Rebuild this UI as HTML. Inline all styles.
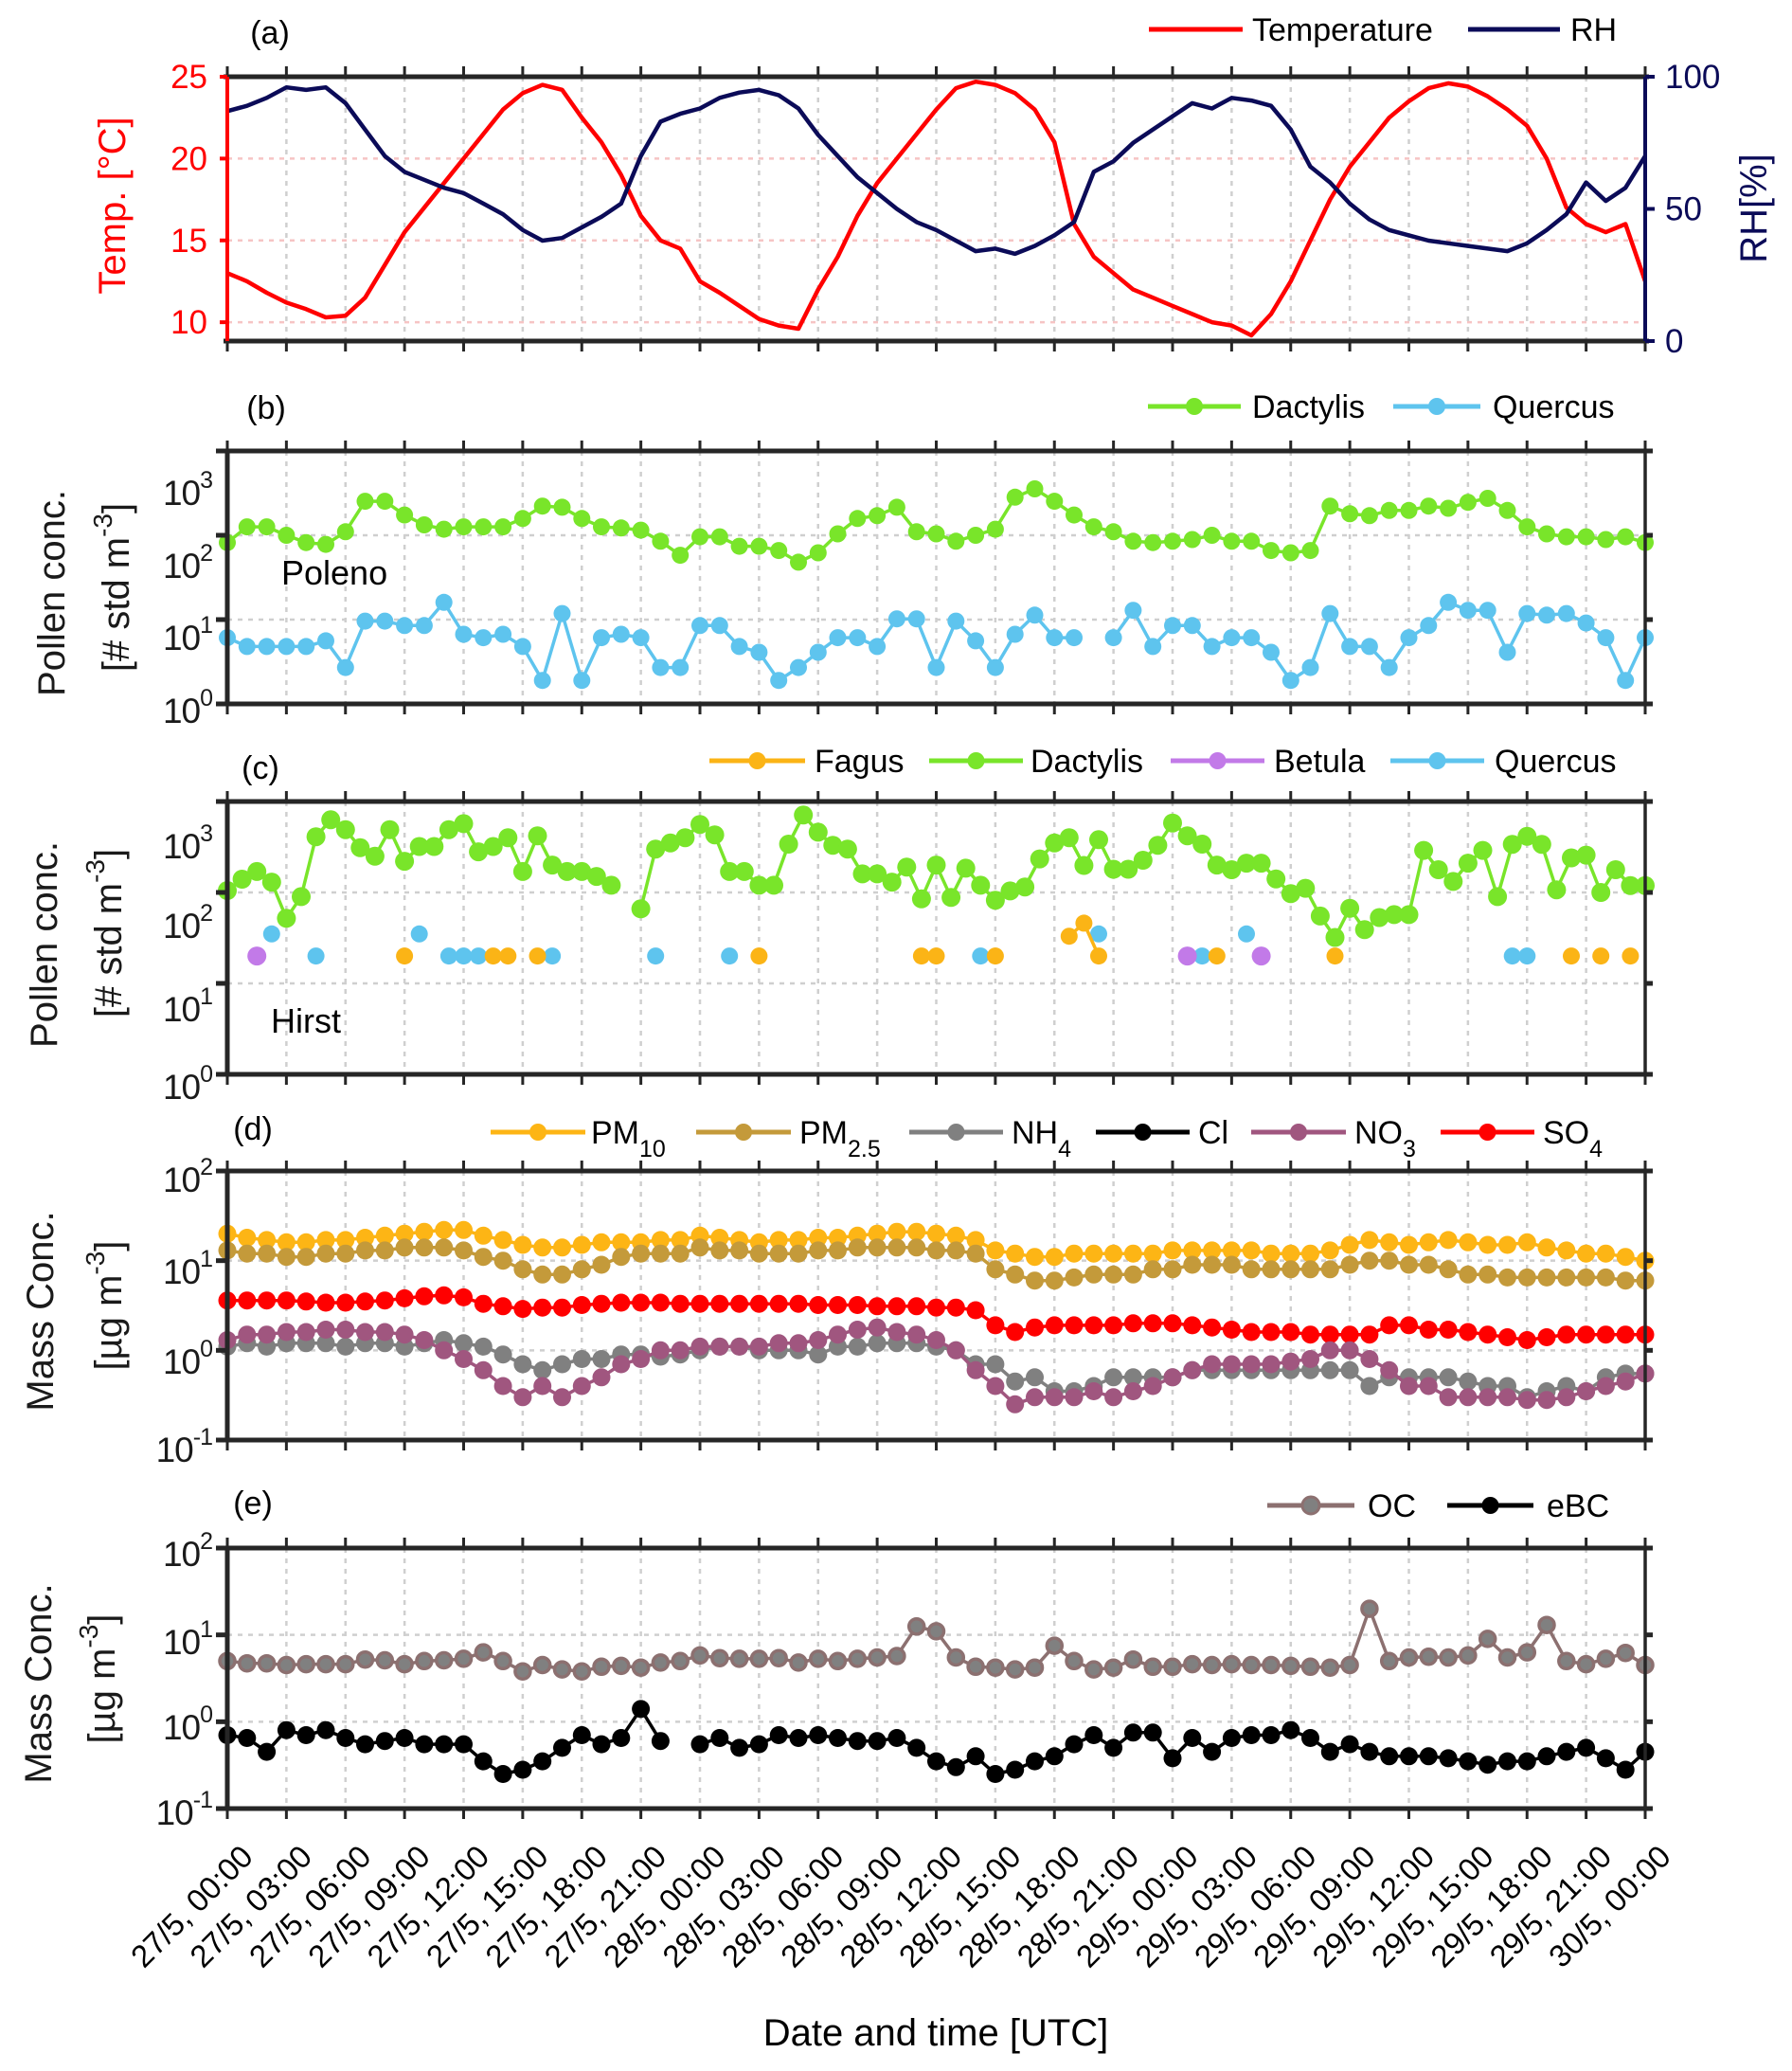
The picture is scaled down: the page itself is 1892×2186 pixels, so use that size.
<!DOCTYPE html>
<html><head><meta charset="utf-8">
<style>
html,body{margin:0;padding:0;background:#fff;}
svg{display:block;font-family:"Liberation Sans",Arial,sans-serif;}
</style></head>
<body>
<svg id="fig" xmlns="http://www.w3.org/2000/svg" width="1892" height="2186" viewBox="0 0 1892 2186"></svg>
<script>
// ---------- DATA ----------
const tickLabels = ["27/5, 00:00","27/5, 03:00","27/5, 06:00","27/5, 09:00","27/5, 12:00","27/5, 15:00","27/5, 18:00","27/5, 21:00","28/5, 00:00","28/5, 03:00","28/5, 06:00","28/5, 09:00","28/5, 12:00","28/5, 15:00","28/5, 18:00","28/5, 21:00","29/5, 00:00","29/5, 03:00","29/5, 06:00","29/5, 09:00","29/5, 12:00","29/5, 15:00","29/5, 18:00","29/5, 21:00","30/5, 00:00"];
const tempC = [13,12.5,11.8,11.2,10.8,10.3,10.4,11.5,13.5,15.5,17,18.5,20,21.5,23,24,24.5,24.2,22.5,21,19,16.5,15,14.5,12.5,11.8,11,10.2,9.8,9.6,12,14,16.5,18.5,20,21.5,23,24.3,24.7,24.5,24,23,21,16,14,13,12,11.5,11,10.5,10,9.8,9.2,10.5,12.5,15,17.5,19.5,21,22.5,23.5,24.3,24.6,24.4,23.8,23,22,20,17,16,15.5,16,12.5];
const rhPct = [87,89,92,96,95,96,90,80,70,64,61,58,56,52,48,42,38,39,43,47,52,70,83,86,88,92,94,95,93,88,78,70,62,56,50,45,42,38,34,35,33,36,40,45,64,68,75,80,85,90,88,92,91,89,80,66,60,52,46,42,40,38,37,36,35,34,37,42,48,60,53,58,70];
const polDactylis = [82,126,126,100,82,78,110,253,253,174,133,118,126,126,126,158,222,215,158,126,122,115,85,58,96,96,74,74,66,48,62,104,158,171,215,110,104,85,100,118,283,355,253,174,126,110,85,82,85,89,100,85,85,66,62,66,222,180,171,197,197,222,209,246,274,197,126,104,96,96,89,96,82];
const polQuercus = [6.1,4.8,4.8,4.8,4.8,5.6,2.7,9.6,9.6,8.5,8.5,16,6.7,6.1,6.7,4.8,1.9,11.8,1.9,6.1,6.7,6.1,2.7,2.7,8.5,8.5,4.8,4.1,1.9,2.7,4.1,6.1,6.1,4.8,10.2,10.2,2.7,9.6,5.6,2.7,6.7,11.3,6.1,6.1,null,6.1,12.9,4.8,8.5,8.5,4.8,6.1,6.1,4.1,1.9,2.7,11.8,4.8,4.8,2.7,6.1,8.5,16,12.9,12.9,4.1,11.8,11.3,11.8,9.1,6.1,1.9,6.1];
const hirDactylis = [105,140,170,130,52,90,410,630,490,310,250,490,220,320,320,490,570,280,320,400,170,420,200,170,170,150,120,null,66,300,350,400,560,430,170,170,120,120,340,710,460,330,300,160,160,130,190,85,200,88,185,120,82,104,115,234,350,400,198,380,180,180,226,330,580,420,340,200,178,210,210,141,97,111,55,32,67,39,53,57,57,290,178,132,210,290,90,338,415,338,107,240,257,100,178,119,119];
const hirFagus = [null,null,null,null,null,null,null,null,null,null,null,null,20,null,null,null,null,null,20,20,null,20,null,null,null,null,null,null,null,null,null,null,null,null,null,null,20,null,null,null,null,null,null,null,null,null,null,20,20,null,null,null,20,null,null,null,null,33,46,20,null,null,null,null,null,null,null,20,null,null,null,null,null,null,null,20,null,null,null,null,null,null,null,null,null,null,null,null,null,null,null,20,null,20,null,20,null];
const hirBetula = [null,null,20,null,null,null,null,null,null,null,null,null,null,null,null,null,null,null,null,null,null,null,null,null,null,null,null,null,null,null,null,null,null,null,null,null,null,null,null,null,null,null,null,null,null,null,null,null,null,null,null,null,null,null,null,null,null,null,null,null,null,null,null,null,null,20,null,null,null,null,20,null,null,null,null,null,null,null,null,null,null,null,null,null,null,null,null,null,null,null,null,null,null,null,null,null,null];
const hirQuercus = [null,null,null,35,null,null,20,null,null,null,null,null,null,35,null,20,20,20,null,null,null,null,20,null,null,null,null,null,null,20,null,null,null,null,20,null,null,null,null,null,null,null,null,null,null,null,null,null,null,null,null,20,null,null,null,null,null,null,null,35,null,null,null,null,null,null,20,null,null,35,null,null,null,null,null,null,null,null,null,null,null,null,null,null,null,null,null,20,20,null,null,null,null,null,null,null,null];
const pm10 = [20,18,17,16,16,17,17,18,19,20,21,22,22,19,17,15,14,14,15,16,16,16,17,17,19,18,17,16,17,17,18,18,19,20,21,21,20,19,17,13,12,11,11,12,12,12,12,12,13,13,13,13,13,12,12,12,13,15,17,16,15,16,17,16,15,15,16,14,13,12,12,11,10];
const pm25 = [13,12,12,11,11,12,12,13,13,14,14,14,13,11,10,8,7,7,8,9,11,12,12,12,14,13,13,12,12,12,13,13,14,14,14,14,13,13,12,8,7,6,6,6.5,7,7,7,8,8,9,9,9,8,8,8,8,8,9,10,10,9,9,8,7,7,6.5,6.5,6.5,6.5,6.5,6.5,6,6];
const nh4 = [1.1,1.2,1.1,1.2,1.2,1.2,1.1,1.2,1.2,1.1,1.2,1.3,1.2,1.1,0.9,0.7,0.6,0.7,0.8,0.8,0.9,0.9,0.85,0.9,1.0,1.1,1.1,1.0,1.0,1.0,0.9,1.1,1.1,1.2,1.2,1.2,1.1,1.0,0.7,0.7,0.45,0.5,0.35,0.35,0.4,0.5,0.5,0.5,0.5,0.6,0.6,0.6,0.6,0.6,0.6,0.6,0.6,0.6,0.4,0.5,0.5,0.5,0.5,0.45,0.4,0.4,0.3,0.35,0.4,0.35,0.5,0.55,0.55];
const no3 = [1.3,1.5,1.5,1.6,1.6,1.7,1.7,1.6,1.6,1.5,1.3,1.0,0.8,0.6,0.4,0.3,0.4,0.3,0.4,0.5,0.7,0.8,1.0,1.0,1.1,1.1,1.1,1.1,1.2,1.2,1.3,1.5,1.7,1.8,1.6,1.5,1.3,1.0,0.6,0.4,0.25,0.3,0.3,0.3,0.35,0.3,0.35,0.4,0.5,0.6,0.7,0.7,0.7,0.7,0.75,0.8,1.0,1.0,0.8,0.6,0.4,0.4,0.3,0.3,0.3,0.3,0.28,0.28,0.3,0.35,0.4,0.45,0.55];
const so4 = [3.6,3.6,3.6,3.6,3.5,3.4,3.4,3.5,3.6,3.8,4.0,4.1,3.9,3.3,3.1,2.9,3.0,3.0,3.2,3.3,3.4,3.4,3.4,3.3,3.3,3.3,3.3,3.3,3.3,3.3,3.2,3.2,3.2,3.1,3.1,3.1,3.0,3.0,2.8,1.9,1.6,1.8,1.9,1.9,1.9,1.9,2.0,2.0,2.0,1.9,1.8,1.7,1.6,1.6,1.6,1.5,1.5,1.5,1.5,1.9,1.9,1.7,1.7,1.6,1.5,1.4,1.3,1.4,1.5,1.5,1.5,1.5,1.5];
const ocConc = [5,4.7,4.7,4.5,4.6,4.6,4.6,5.2,5.1,4.6,5,5.1,5.3,6.3,5,3.8,4.5,4,3.8,4.3,4.4,4.2,4.8,5,5.8,5.4,5.3,5.3,5.4,4.8,5.3,5,5.3,5.5,5.7,12.5,11,5.5,4.3,4.2,4,4.2,7.5,5,4,4.2,5.2,4.3,4.3,4.6,4.5,4.6,4.5,4.5,4.4,4.3,4.2,4.5,20,5,5.5,5.6,5.5,5.8,9,5.5,6.3,13,5,4.6,5.3,6.2,4.5];
const ebcConc = [0.7,0.65,0.45,0.8,0.7,0.8,0.65,0.55,0.6,0.65,0.55,0.55,0.55,0.35,0.25,0.28,0.35,0.5,0.7,0.55,0.65,1.4,0.6,null,0.55,0.65,0.5,0.55,0.7,0.65,0.7,0.65,0.6,0.6,0.65,0.5,0.35,0.3,0.4,0.25,0.28,0.35,0.4,0.55,0.7,0.5,0.75,0.75,0.38,0.65,0.45,0.65,0.7,0.7,0.8,0.65,0.45,0.55,0.45,0.4,0.4,0.4,0.38,0.35,0.32,0.35,0.35,0.4,0.45,0.5,0.38,0.28,0.45];

// ---------- LAYOUT ----------
const NS = "http://www.w3.org/2000/svg";
const svg = document.getElementById('fig');
const X0 = 240, X1 = 1737, HOURS = 72;
function xh(h){ return X0 + h * (X1 - X0) / HOURS; }
function mk(tag, attrs, parent){
  const e = document.createElementNS(NS, tag);
  for (const k in attrs) e.setAttribute(k, attrs[k]);
  (parent || svg).appendChild(e);
  return e;
}
const panels = {
  a:{top:81,bottom:360},
  b:{top:476,bottom:743,lo:0,hi:3,labY:[750,673,597,520]},
  c:{top:846,bottom:1134,lo:0,hi:3,labY:[1147,1065,977,893]},
  d:{top:1236,bottom:1520,lo:-1,hi:2,labY:[1530,1437,1342,1245]},
  e:{top:1634,bottom:1909,lo:-1,hi:2,labY:[1913,1823,1733,1640]}
};
function ylog(p, v){ return p.bottom - (Math.log10(v) - p.lo) * (p.bottom - p.top) / (p.hi - p.lo); }
const pa = panels.a;
function yT(v){ return pa.bottom - (v - 8.85) * (pa.bottom - pa.top) / (25 - 8.85); }
function yRH(v){ return pa.bottom - v * (pa.bottom - pa.top) / 100; }

// grids
for (const key in panels){
  const p = panels[key];
  for (let i = 1; i < tickLabels.length - 1; i++){
    const g = mk('line',{x1:xh(i*3),x2:xh(i*3),y1:p.top,y2:p.bottom,stroke:'#cfcfcf','stroke-width':2.5,'stroke-dasharray':'5 6'});
    
    
  }
  if (key !== 'a'){
    for (let k = p.lo + 1; k < p.hi; k++){
      const y = ylog(p, Math.pow(10,k));
      const g = mk('line',{x1:X0,x2:X1,y1:y,y2:y,stroke:'#cfcfcf','stroke-width':2.5,'stroke-dasharray':'5 6'});
      
      
    }
  }
}
[10,15,20].forEach(v=>{
  const g = mk('line',{x1:X0,x2:X1,y1:yT(v),y2:yT(v),stroke:'#f6c4c4','stroke-width':2.5,'stroke-dasharray':'5 6'});
  
  
});

// series helpers
function drawSeries(vals, step, xfn, yfn, color, name, opts){
  opts = opts || {};
  const grp = mk('g',{});
  
  
  let seg = [];
  const segs = [];
  vals.forEach((v,i)=>{
    if (v === null || v === undefined){ if (seg.length) segs.push(seg); seg = []; }
    else seg.push([xfn(i*step), yfn(v)]);
  });
  if (seg.length) segs.push(seg);
  segs.forEach(s=>{
    if (s.length < 2) return;
    const pl = mk('polyline',{points:s.map(q=>q[0].toFixed(1)+','+q[1].toFixed(1)).join(' '),fill:'none',stroke:color,'stroke-width':opts.lw||4,'stroke-linejoin':'round'},grp);
    
    
  });
  if (opts.r){
    segs.forEach(s=>s.forEach(q=>{
      const c = mk('circle',{cx:q[0].toFixed(1),cy:q[1].toFixed(1),r:opts.r,fill:opts.fill||color,stroke:opts.mstroke||'none','stroke-width':opts.msw||0},grp);
      
      
    }));
  }
}

const pb = panels.b, pc = panels.c, pd = panels.d, pe = panels.e;
drawSeries(tempC,1,xh,yT,'#ff0000','temperature-series',{lw:4.5});
drawSeries(rhPct,1,xh,yRH,'#0b0b58','rh-series',{lw:4.5});
drawSeries(polDactylis,1,xh,v=>ylog(pb,v),'#79e52a','poleno-dactylis-series',{lw:3.5,r:9});
drawSeries(polQuercus,1,xh,v=>ylog(pb,v),'#5ec4ee','poleno-quercus-series',{lw:3.5,r:9});
drawSeries(hirDactylis,0.75,xh,v=>ylog(pc,v),'#79e52a','hirst-dactylis-series',{lw:3.5,r:10});
drawSeries(hirQuercus,0.75,xh,v=>ylog(pc,v),'#5ec4ee','hirst-quercus-series',{lw:3.5,r:9});
drawSeries(hirFagus,0.75,xh,v=>ylog(pc,v),'#fbb416','hirst-fagus-series',{lw:3.5,r:9});
drawSeries(hirBetula,0.75,xh,v=>ylog(pc,v),'#c27ae8','hirst-betula-series',{lw:3.5,r:10});
drawSeries(pm10,1,xh,v=>ylog(pd,v),'#fdb515','pm10-series',{lw:3.5,r:9.5});
drawSeries(pm25,1,xh,v=>ylog(pd,v),'#c49a3a','pm25-series',{lw:3.5,r:9.5});
drawSeries(so4,1,xh,v=>ylog(pd,v),'#ff0000','so4-series',{lw:3.5,r:9.5});
drawSeries(nh4,1,xh,v=>ylog(pd,v),'#808080','nh4-series',{lw:3.5,r:9.5});
drawSeries(no3,1,xh,v=>ylog(pd,v),'#a0567f','no3-series',{lw:3.5,r:9.5});
drawSeries(ocConc,1,xh,v=>ylog(pe,v),'#8c7070','oc-series',{lw:3.5,r:8,fill:'#808080',mstroke:'#8c7070',msw:3.5});
drawSeries(ebcConc,1,xh,v=>ylog(pe,v),'#000000','ebc-series',{lw:3.5,r:9.5});

function text(x,y,str,size,opts){
  opts = opts || {};
  const t = mk('text',{x:x,y:y,'font-size':size,fill:opts.fill||'#000','text-anchor':opts.anchor||'start'});
  if (opts.transform) t.setAttribute('transform', opts.transform);
  t.textContent = str;
  return t;
}
for (const key in panels){
  const p = panels[key];
  const ax = mk('g',{});
  
  
  for (let i = 0; i < tickLabels.length; i++){
    const x = xh(i*3);
    const t1 = mk('line',{x1:x,x2:x,y1:p.top,y2:p.top-11,stroke:'#262626','stroke-width':3},ax);
    
    
    const t2 = mk('line',{x1:x,x2:x,y1:p.bottom,y2:p.bottom+11,stroke:'#262626','stroke-width':3},ax);
    
    
  }
  const hb = mk('line',{x1:X0-4,x2:X1+4,y1:p.top,y2:p.top,stroke:'#262626','stroke-width':5},ax);
  
  
  const bb = mk('line',{x1:X0-4,x2:X1+4,y1:p.bottom,y2:p.bottom,stroke:'#262626','stroke-width':5},ax);
  
  
  const lc = key==='a' ? '#ff0000' : '#262626';
  const rc = key==='a' ? '#0b0b58' : '#262626';
  const la = mk('line',{x1:X0,x2:X0,y1:p.top,y2:p.bottom,stroke:lc,'stroke-width':key==='a'?4:5},ax);
  
  
  const ra = mk('line',{x1:X1,x2:X1,y1:p.top,y2:p.bottom,stroke:rc,'stroke-width':key==='a'?4:3.5},ax);
  
  
  if (key !== 'a'){
    for (let k = p.lo; k <= p.hi; k++){
      const y = ylog(p, Math.pow(10,k));
      const tk = mk('line',{x1:X0-12,x2:X0,y1:y,y2:y,stroke:'#262626','stroke-width':5},ax);
      
      
      const tr = mk('line',{x1:X1,x2:X1+8,y1:y,y2:y,stroke:'#262626','stroke-width':5},ax);
      
      
      const lab = mk('text',{x:224,y:p.labY[k-p.lo]+13,'font-size':37,'text-anchor':'end',fill:'#1a1a1a','letter-spacing':'-1'});
      
      
      lab.appendChild(document.createTextNode('10'));
      const sup = mk('tspan',{'font-size':25,dy:-18},lab);
      sup.textContent = String(k);
    }
  }
}
[[25,yT(25)],[20,yT(20)],[15,yT(15)],[10,yT(10)]].forEach(q=>{
  const t = text(219,q[1]+12,String(q[0]),35,{anchor:'end',fill:'#ff0000'});
  
  
  const tk = mk('line',{x1:X0-8,x2:X0,y1:q[1],y2:q[1],stroke:'#ff0000','stroke-width':4});
  
  
});
[[100,yRH(100)],[50,yRH(50)],[0,yRH(0)]].forEach(q=>{
  const t = text(1758,q[1]+12,String(q[0]),35,{fill:'#0b0b58'});
  
  
  const tk = mk('line',{x1:X1,x2:X1+10,y1:q[1],y2:q[1],stroke:'#0b0b58','stroke-width':4});
  
  
});

tickLabels.forEach((lab,i)=>{
  const x = xh(i*3);
  const t = text(0,0,lab,33,{anchor:'end',transform:`translate(${(x+12).toFixed(1)},1945) rotate(-45)`});
  t.setAttribute('dy','0.72em');
  
  
});
const xl = text(988,2159,'Date and time [UTC]',40,{anchor:'middle'});



[['(a)',285,34],['(b)',281,430],['(c)',275,810],['(d)',267,1191],['(e)',267,1586]].forEach(q=>{
  const t = text(q[1],q[2]+12,q[0],34,{anchor:'middle'});
  
  
});
const pol = text(297,617,'Poleno',36);


const hir = text(286,1090,'Hirst',36);



function vtext(x,y,str,size,color,name,supText,after){
  const t = mk('text',{transform:`translate(${x+14},${y}) rotate(-90)`,'font-size':size,fill:color,'text-anchor':'middle'});
  
  
  t.appendChild(document.createTextNode(str));
  if (supText){
    const s = mk('tspan',{'font-size':size*0.7,dy:-size*0.45},t);
    s.textContent = supText;
    const s2 = mk('tspan',{dy:size*0.45},t);
    s2.textContent = after;
  }
}
vtext(118,217,'Temp. [°C]',40,'#ff0000','temp-axis-title');
vtext(1851,220,'RH[%]',40,'#0b0b58','rh-axis-title');
vtext(54,626,'Pollen conc.',40,'#1a1a1a','pollen-axis-title-b');
vtext(122,620,'[# std m',40,'#1a1a1a','pollen-unit-title-b','-3',']');
vtext(46,997,'Pollen conc.',40,'#1a1a1a','pollen-axis-title-c');
vtext(114,985,'[# std m',40,'#1a1a1a','pollen-unit-title-c','-3',']');
vtext(42,1384,'Mass Conc.',40,'#1a1a1a','mass-axis-title-d');
vtext(114,1378,'[µg m',40,'#1a1a1a','mass-unit-title-d','-3',']');
vtext(40,1777,'Mass Conc.',40,'#1a1a1a','mass-axis-title-e');
vtext(107,1772,'[µg m',40,'#1a1a1a','mass-unit-title-e','-3',']');

function legend(x1,x2,y,tx,label,color,marker,name,sub,mfill,mstroke){
  const g = mk('g',{});
  
  
  const l = mk('line',{x1:x1,x2:x2,y1:y,y2:y,stroke:color,'stroke-width':5},g);
  
  
  if (marker){
    const c = mk('circle',{cx:(x1+x2)/2,cy:y,r:9,fill:mfill||color,stroke:mstroke||'none','stroke-width':3},g);
    
    
  }
  const t = mk('text',{x:tx,y:y+12,'font-size':34,fill:'#000'},g);
  
  
  t.appendChild(document.createTextNode(label));
  if (sub){
    const s = mk('tspan',{'font-size':25,dy:14},t);
    s.textContent = sub;
  }
}
legend(1213,1312,31,1322,'Temperature','#ff0000',false,'legend-temperature');
legend(1550,1647,31,1658,'RH','#0b0b58',false,'legend-rh');
legend(1212,1310,429,1322,'Dactylis','#79e52a',true,'legend-poleno-dactylis');
legend(1471,1563,429,1576,'Quercus','#5ec4ee',true,'legend-poleno-quercus');
legend(749,850,803,860,'Fagus','#fbb416',true,'legend-fagus');
legend(981,1080,803,1088,'Dactylis','#79e52a',true,'legend-hirst-dactylis');
legend(1236,1335,803,1345,'Betula','#c27ae8',true,'legend-betula');
legend(1468,1567,803,1578,'Quercus','#5ec4ee',true,'legend-hirst-quercus');
legend(518,618,1195,624,'PM','#fdb515',true,'legend-pm10','10');
legend(735,835,1195,844,'PM','#c49a3a',true,'legend-pm25','2.5');
legend(960,1059,1195,1068,'NH','#808080',true,'legend-nh4','4');
legend(1157,1256,1195,1265,'Cl','#000000',true,'legend-cl');
legend(1321,1421,1195,1430,'NO','#a0567f',true,'legend-no3','3');
legend(1521,1620,1195,1629,'SO','#ff0000',true,'legend-so4','4');
legend(1338,1430,1589,1444,'OC','#8c7070',true,'legend-oc',null,'#808080','#8c7070');
legend(1528,1619,1589,1633,'eBC','#000000',true,'legend-ebc');
</script>
</body></html>
